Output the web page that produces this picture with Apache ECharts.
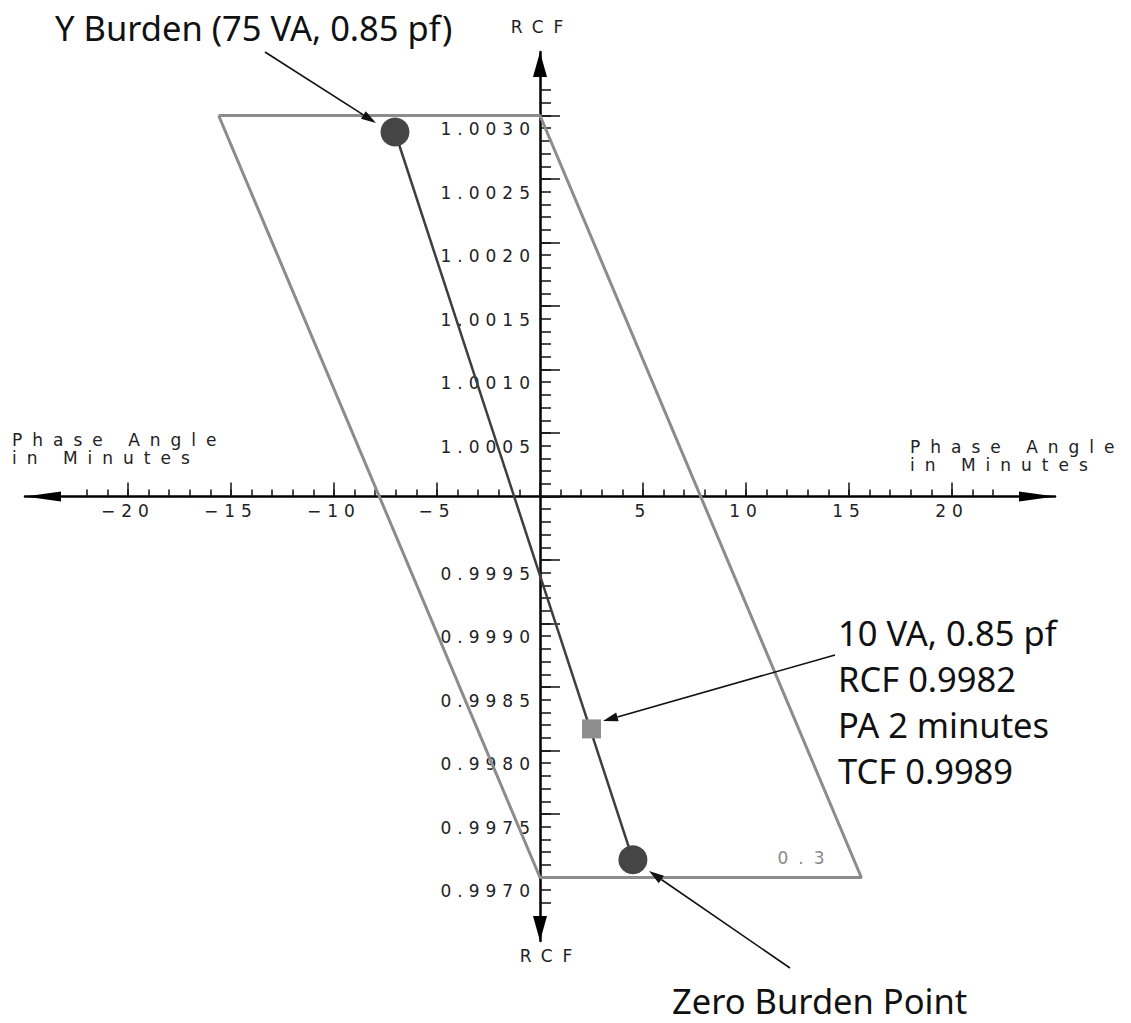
<!DOCTYPE html>
<html>
<head>
<meta charset="utf-8">
<script src="https://cdn.jsdelivr.net/npm/echarts@6/dist/echarts.min.js"></script>
<style>
html,body{margin:0;padding:0;background:#fff;}
#chart{width:1131px;height:1023px;}
#chart text[style*="DejaVu Sans"], #chart text[font-family*="DejaVu Sans"]{letter-spacing:6px;}
#chart text[style*="Verdana"], #chart text[font-family*="Verdana"]{letter-spacing:10px;}
</style>
</head>
<body>
<div id="chart"></div>
<script>
// ---- data ----
const phaseTicksMajor = [-20, -15, -10, -5, 0, 5, 10, 15, 20];
const phaseTicksMinor = [-22, -21, -20, -19, -18, -17, -16, -15, -14, -13, -12, -11, -10, -9, -8, -7, -6, -5, -4, -3, -2, -1, 0,
  1, 2, 3, 4, 5, 6, 7, 8, 9, 10, 11, 12, 13, 14, 15, 16, 17, 18, 19, 20, 21, 22];
const phaseLabels = [-20, -15, -10, -5, 5, 10, 15, 20];
const rcfTicksMajor = [0.9970, 0.9975, 0.9980, 0.9985, 0.9990, 0.9995, 1.0000, 1.0005, 1.0010, 1.0015, 1.0020, 1.0025, 1.0030];
const rcfTicksMinor = [0.9968, 0.9969, 0.9970, 0.9971, 0.9972, 0.9973, 0.9974, 0.9975, 0.9976, 0.9977, 0.9978, 0.9979,
  0.9980, 0.9981, 0.9982, 0.9983, 0.9984, 0.9985, 0.9986, 0.9987, 0.9988, 0.9989, 0.9990, 0.9991, 0.9992, 0.9993,
  0.9994, 0.9995, 0.9996, 0.9997, 0.9998, 0.9999, 1.0000, 1.0001, 1.0002, 1.0003, 1.0004, 1.0005, 1.0006, 1.0007,
  1.0008, 1.0009, 1.0010, 1.0011, 1.0012, 1.0013, 1.0014, 1.0015, 1.0016, 1.0017, 1.0018, 1.0019, 1.0020, 1.0021,
  1.0022, 1.0023, 1.0024, 1.0025, 1.0026, 1.0027, 1.0028, 1.0029, 1.0030, 1.0031, 1.0032];
const rcfLabels = [0.9970, 0.9975, 0.9980, 0.9985, 0.9990, 0.9995, 1.0005, 1.0010, 1.0015, 1.0020, 1.0025, 1.0030];

// 0.3 accuracy class parallelogram (phase angle, RCF)
const boxPA  = [-15.6, 0, 15.6, 0, -15.6];
const boxRCF = [1.0030, 1.0030, 0.9970, 0.9970, 1.0030];
// burden line endpoints: Y burden (75 VA) and zero burden
const burdenNames = ['Y Burden (75 VA, 0.85 pf)', 'Zero Burden Point'];
const burdenPA  = [-7.04, 4.51];
const burdenRCF = [1.00287, 0.99714];
// 10 VA point
const pointPA  = [2.5];
const pointRCF = [0.99817];

const axisMin = { x: -25, y: 0.9965 };
const axisMax = { x: 25, y: 1.0035 };

// ---- chart ----
const chart = echarts.init(document.getElementById('chart'), null, { renderer: 'svg' });

const NUMFONT = "'DejaVu Sans'";
const WIDEFONT = "Verdana, 'DejaVu Sans'";
const ANNOFONT = "'Noto Sans'";
const GRID = { left: 25, top: 52, width: 1030, height: 889 };
// move the x axis to RCF = 1 and the y axis to phase angle = 0
const xOffset = -(GRID.height * (1.0 - axisMin.y) / (axisMax.y - axisMin.y));
const yOffset = -(GRID.width * (0 - axisMin.x) / (axisMax.x - axisMin.x));

function zip(a, b) { return a.map((v, i) => [v, b[i]]); }

function arrow(x1, y1, x2, y2) {
  const dx = x2 - x1, dy = y2 - y1, len = Math.hypot(dx, dy);
  const ux = dx / len, uy = dy / len, L = 15, W = 4.5;
  const bx = x2 - ux * L, by = y2 - uy * L;
  return [
    { type: 'line', z: 50, shape: { x1: x1, y1: y1, x2: bx, y2: by }, style: { stroke: '#111', lineWidth: 1.6 } },
    { type: 'polygon', z: 50, shape: { points: [[x2, y2], [bx - uy * W, by + ux * W], [bx + uy * W, by - ux * W]] }, style: { fill: '#111' } }
  ];
}

const option = {
  backgroundColor: '#fff',
  animation: false,
  grid: { left: GRID.left, top: GRID.top, width: GRID.width, height: GRID.height, containLabel: false, outerBoundsMode: 'none' },
  xAxis: [
    {
      type: 'value', min: axisMin.x, max: axisMax.x, position: 'bottom', offset: xOffset,
      axisLine: { show: true, onZero: false, lineStyle: { color: '#000', width: 2.5 },
        symbol: ['triangle', 'triangle'], symbolSize: [10, 36], symbolOffset: [18, -18] },
      axisTick: { show: true, inside: true, length: 14, customValues: phaseTicksMajor, lineStyle: { color: '#111', width: 1.5 } },
      axisLabel: { show: true, customValues: phaseLabels, margin: 6, fontFamily: NUMFONT, fontSize: 17, color: '#222',
        hideOverlap: false, formatter: v => (v < 0 ? '\u2212' + Math.abs(v) : String(v)) },
      splitLine: { show: false }
    },
    {
      type: 'value', min: axisMin.x, max: axisMax.x, position: 'bottom', offset: xOffset,
      axisLine: { show: false, onZero: false },
      axisTick: { show: true, inside: true, length: 7, customValues: phaseTicksMinor, lineStyle: { color: '#111', width: 1.5 } },
      axisLabel: { show: false },
      splitLine: { show: false }
    }
  ],
  yAxis: [
    {
      type: 'value', min: axisMin.y, max: axisMax.y, position: 'left', offset: yOffset,
      axisLine: { show: true, onZero: false, lineStyle: { color: '#000', width: 2.5 },
        symbol: ['triangle', 'triangle'], symbolSize: [14, 25], symbolOffset: [12.5, -12.5] },
      axisTick: { show: true, inside: true, length: 20, customValues: rcfTicksMajor, lineStyle: { color: '#111', width: 1.5 } },
      axisLabel: { show: true, customValues: rcfLabels, margin: 4, fontFamily: NUMFONT, fontSize: 17, color: '#222',
        hideOverlap: false, verticalAlign: 'top', lineHeight: 27, formatter: v => v.toFixed(4) },
      splitLine: { show: false }
    },
    {
      type: 'value', min: axisMin.y, max: axisMax.y, position: 'left', offset: yOffset,
      axisLine: { show: false, onZero: false },
      axisTick: { show: true, inside: true, length: 11, customValues: rcfTicksMinor, lineStyle: { color: '#111', width: 1.5 } },
      axisLabel: { show: false },
      splitLine: { show: false }
    }
  ],
  series: [
    {
      name: '0.3 class', type: 'line', data: zip(boxPA, boxRCF), symbol: 'none', silent: true, z: 3,
      lineStyle: { color: '#8c8c8c', width: 3 }
    },
    {
      name: 'Burden line', type: 'line', data: zip(burdenPA, burdenRCF), symbol: 'none', silent: true, z: 4,
      lineStyle: { color: '#3e3e3e', width: 2.5 }
    },
    {
      name: 'Burden points', type: 'scatter', z: 5, symbol: 'circle', symbolSize: 29,
      data: burdenPA.map((v, i) => ({ name: burdenNames[i], value: [v, burdenRCF[i]] })),
      itemStyle: { color: '#454545', opacity: 1 }
    },
    {
      name: '10 VA', type: 'scatter', z: 5, symbol: 'rect', symbolSize: 19,
      data: zip(pointPA, pointRCF),
      itemStyle: { color: '#8e8e8e', opacity: 1 }
    }
  ],
  graphic: [
    { type: 'text', z: 50, x: 12, y: 449, style: { text: 'Phase Angle\nin Minutes', fontFamily: WIDEFONT, fontSize: 17, lineHeight: 18, fill: '#222', align: 'left', verticalAlign: 'middle' } },
    { type: 'text', z: 50, x: 910, y: 456, style: { text: 'Phase Angle\nin Minutes', fontFamily: WIDEFONT, fontSize: 17, lineHeight: 18, fill: '#222', align: 'left', verticalAlign: 'middle' } },
    { type: 'text', z: 50, x: 542, y: 27, style: { text: 'RCF', fontFamily: WIDEFONT, fontSize: 17, fill: '#222', align: 'center', verticalAlign: 'middle' } },
    { type: 'text', z: 50, x: 551, y: 956, style: { text: 'RCF', fontFamily: WIDEFONT, fontSize: 17, fill: '#222', align: 'center', verticalAlign: 'middle' } },
    { type: 'text', z: 50, x: 806, y: 858, style: { text: '0.3', fontFamily: WIDEFONT, fontSize: 17, fill: '#888', align: 'center', verticalAlign: 'middle' } },
    { type: 'text', z: 50, x: 55, y: 27, style: { text: 'Y Burden (75 VA, 0.85 pf)', fontFamily: ANNOFONT, fontSize: 34.5, fill: '#111', align: 'left', verticalAlign: 'middle' } },
    { type: 'text', z: 50, x: 838, y: 701, style: { text: '10 VA, 0.85 pf\nRCF 0.9982\nPA 2 minutes\nTCF 0.9989', fontFamily: ANNOFONT, fontSize: 34.5, lineHeight: 46, fill: '#111', align: 'left', verticalAlign: 'middle' } },
    { type: 'text', z: 50, x: 672, y: 1000, style: { text: 'Zero Burden Point', fontFamily: ANNOFONT, fontSize: 34.5, fill: '#111', align: 'left', verticalAlign: 'middle' } }
  ]
    .concat(arrow(265, 52, 376, 123))
    .concat(arrow(835, 655, 603, 721))
    .concat(arrow(790, 968, 649, 871))
};

chart.setOption(option);
</script>
</body>
</html>
